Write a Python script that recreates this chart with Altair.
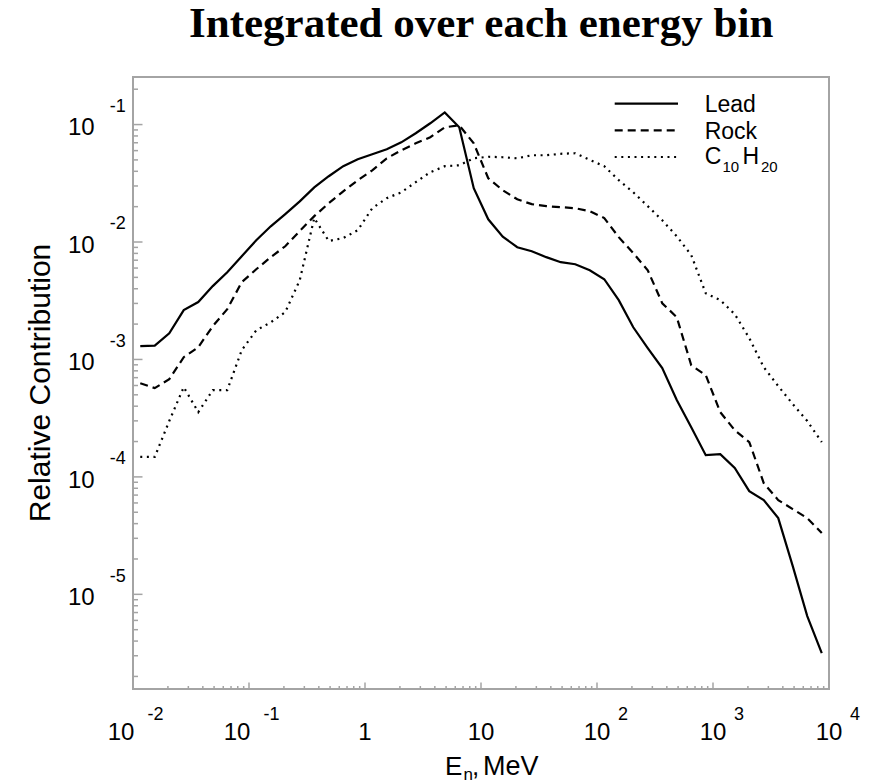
import altair as alt
import pandas as pd

# ---------------- data ----------------
energy = [0.01155, 0.0154, 0.02054, 0.02738, 0.03652, 0.0487, 0.06494, 0.0866,
          0.1155, 0.154, 0.2054, 0.2738, 0.3652, 0.487, 0.6494, 0.866,
          1.155, 1.54, 2.054, 2.738, 3.652, 4.87, 6.494, 8.66,
          11.55, 15.4, 20.54, 27.38, 36.52, 48.7, 64.94, 86.6,
          115.5, 154.0, 205.4, 273.8, 365.2, 487.0, 649.4, 866.0,
          1155, 1540, 2054, 2738, 3652, 4870, 6494, 8660]

lead = [1.30e-3, 1.31e-3, 1.67e-3, 2.63e-3, 3.08e-3, 4.21e-3, 5.53e-3, 7.57e-3,
        1.035e-2, 1.36e-2, 1.73e-2, 2.22e-2, 2.92e-2, 3.63e-2, 4.42e-2, 5.06e-2,
        5.58e-2, 6.17e-2, 7.06e-2, 8.43e-2, 0.1026, 0.127, 0.0948, 2.87e-2,
        1.56e-2, 1.11e-2, 9.03e-3, 8.35e-3, 7.43e-3, 6.73e-3, 6.47e-3, 5.75e-3,
        4.82e-3, 3.20e-3, 1.88e-3, 1.25e-3, 8.43e-4, 4.51e-4, 2.65e-4, 1.53e-4,
        1.56e-4, 1.19e-4, 7.57e-5, 6.34e-5, 4.46e-5, 1.74e-5, 6.53e-6, 3.16e-6]

rock = [6.28e-4, 5.70e-4, 6.79e-4, 1.045e-3, 1.27e-3, 1.92e-3, 2.68e-3, 4.55e-3,
        5.86e-3, 7.43e-3, 9.20e-3, 1.24e-2, 1.66e-2, 2.14e-2, 2.70e-2, 3.36e-2,
        4.08e-2, 5.16e-2, 6.04e-2, 6.92e-2, 7.80e-2, 9.48e-2, 9.86e-2, 6.92e-2,
        3.49e-2, 2.76e-2, 2.31e-2, 2.10e-2, 2.02e-2, 1.98e-2, 1.94e-2, 1.83e-2,
        1.60e-2, 1.10e-2, 8.04e-3, 5.75e-3, 3.01e-3, 2.29e-3, 8.93e-4, 7.35e-4,
        3.56e-4, 2.50e-4, 1.98e-4, 8.85e-5, 6.34e-5, 5.32e-5, 4.46e-5, 3.33e-5]

c10h20 = [1.48e-4, 1.48e-4, 2.99e-4, 5.81e-4, 3.56e-4, 5.48e-4, 5.48e-4, 1.20e-3,
          1.77e-3, 2.07e-3, 2.53e-3, 4.73e-3, 1.60e-2, 1.02e-2, 1.08e-2, 1.26e-2,
          1.94e-2, 2.36e-2, 2.65e-2, 3.23e-2, 3.93e-2, 4.42e-2, 4.50e-2, 5.16e-2,
          5.32e-2, 5.27e-2, 5.16e-2, 5.48e-2, 5.48e-2, 5.64e-2, 5.70e-2, 5.00e-2,
          4.42e-2, 3.36e-2, 2.65e-2, 2.02e-2, 1.53e-2, 1.12e-2, 7.73e-3, 3.66e-3,
          3.20e-3, 2.43e-3, 1.52e-3, 8.59e-4, 5.93e-4, 4.17e-4, 2.99e-4, 1.98e-4]

x_major = [0.01, 0.1, 1, 10, 100, 1000, 10000]
x_label_base = ["10", "10", "1", "10", "10", "10", "10"]
x_label_exp = ["-2", "-1", "", "", "2", "3", "4"]
y_major = [1e-5, 1e-4, 1e-3, 1e-2, 1e-1]
y_label_base = ["10", "10", "10", "10", "10"]
y_label_exp = ["-5", "-4", "-3", "-2", "-1"]

title_text = "Integrated over each energy bin"
y_title = "Relative Contribution"
series_names = ["Lead", "Rock", "C", "10", "H", "20"]

X_MIN, X_MAX = 0.01, 10000
Y_MIN, Y_MAX = 10 ** -5.806, 10 ** -0.595
x_minor = [m * 10 ** k for k in range(-2, 4) for m in range(2, 10)]
y_minor = [m * 10.0 ** k for k in range(-6, 0) for m in range(2, 10)
           if Y_MIN <= m * 10.0 ** k <= Y_MAX]

# ---------------- layout ----------------
W, H = 696, 612
AX = "#a4a4a4"
SANS = "Liberation Sans"

xs = alt.Scale(type="log", domain=[X_MIN, X_MAX], nice=False)
ys = alt.Scale(type="log", domain=[Y_MIN, Y_MAX], nice=False)
X = lambda f: alt.X(f, type="quantitative", scale=xs, axis=None)
Y = lambda f: alt.Y(f, type="quantitative", scale=ys, axis=None)

def series_line(vals, dash=None):
    df = pd.DataFrame({"E": energy, "v": vals})
    kw = dict(color="black", strokeWidth=2.2, clip=True)
    if dash:
        kw["strokeDash"] = dash
    return alt.Chart(df).mark_line(**kw).encode(x=X("E"), y=Y("v"))

DASH = [8, 5]
DOT = [2, 4.6]

lines = [series_line(lead), series_line(rock, DASH), series_line(c10h20, DOT)]

# ticks (inward)
xmaj = pd.DataFrame({"v": x_major})
xmin = pd.DataFrame({"v": x_minor})
ymaj = pd.DataFrame({"v": y_major})
ymin = pd.DataFrame({"v": y_minor})
ticks = [
    alt.Chart(xmaj).mark_rule(color=AX, strokeWidth=1.5).encode(
        x=X("v"), y=alt.value(H), y2=alt.value(H - 6.5)),
    alt.Chart(xmin).mark_rule(color=AX, strokeWidth=1.5).encode(
        x=X("v"), y=alt.value(H), y2=alt.value(H - 3)),
    alt.Chart(ymaj).mark_rule(color=AX, strokeWidth=1.5).encode(
        y=Y("v"), x=alt.value(0), x2=alt.value(9.5)),
    alt.Chart(ymin).mark_rule(color=AX, strokeWidth=1.5).encode(
        y=Y("v"), x=alt.value(0), x2=alt.value(5)),
]

# x tick labels
xl = pd.DataFrame({"v": x_major, "base": x_label_base, "exp": x_label_exp})
neg = "indexof(datum.exp, '-') == 0"
pos = "datum.exp != '' && indexof(datum.exp, '-') != 0"
nonneg = "indexof(datum.exp, '-') != 0"
xlabels = [
    alt.Chart(xl).transform_filter(neg).mark_text(
        font=SANS, fontSize=24, align="center", baseline="alphabetic", dx=-12
    ).encode(x=X("v"), y=alt.value(H + 51), text="base:N"),
    alt.Chart(xl).transform_filter(nonneg).mark_text(
        font=SANS, fontSize=24, align="center", baseline="alphabetic"
    ).encode(x=X("v"), y=alt.value(H + 51), text="base:N"),
    alt.Chart(xl).transform_filter(neg).mark_text(
        font=SANS, fontSize=18, align="left", baseline="alphabetic", dx=14.5
    ).encode(x=X("v"), y=alt.value(H + 31), text="exp:N"),
    alt.Chart(xl).transform_filter(pos).mark_text(
        font=SANS, fontSize=18, align="left", baseline="alphabetic", dx=21
    ).encode(x=X("v"), y=alt.value(H + 31), text="exp:N"),
]

# y tick labels
yl = pd.DataFrame({"v": y_major, "base": y_label_base, "exp": y_label_exp})
ylabels = [
    alt.Chart(yl).mark_text(
        font=SANS, fontSize=24, align="right", baseline="alphabetic", dy=10.7
    ).encode(y=Y("v"), x=alt.value(-38.3), text="base:N"),
    alt.Chart(yl).mark_text(
        font=SANS, fontSize=18, align="left", baseline="alphabetic", dy=-12.6
    ).encode(y=Y("v"), x=alt.value(-23.3), text="exp:N"),
]

def label(txt, x, y, size, **kw):
    df = pd.DataFrame({"t": [txt]})
    return alt.Chart(df).mark_text(font=kw.pop("font", SANS), fontSize=size,
                                   baseline="alphabetic", **kw).encode(
        x=alt.value(x), y=alt.value(y), text="t:N")

texts = [
    label(title_text, 348.2, -40, 43, font="Liberation Serif",
          fontWeight="bold", align="center"),
    label(y_title, -82.6, 306, 30, angle=270, align="center"),
    # x axis title: E_n, MeV
    label("E", 312, 698, 26, align="left"),
    label("n", 330.5, 703, 17, align="left"),
    label(",", 339, 698, 26, align="left"),
    label("MeV", 350, 698, 27, align="left"),
    # legend
    label(series_names[0], 571.7, 35, 23, align="left"),
    label(series_names[1], 571.7, 61.6, 23, align="left"),
    label(series_names[2], 571.7, 86.6, 23, align="left"),
    label(series_names[3], 589.5, 95, 15, align="left"),
    label(series_names[4], 609.5, 86.6, 23, align="left"),
    label(series_names[5], 628, 95, 15, align="left"),
]

legend_df = pd.DataFrame({"s": series_names[:3]})
def legend_line(i, y, dash=None):
    kw = dict(color="black", strokeWidth=2.2)
    if dash:
        kw["strokeDash"] = dash
    return alt.Chart(legend_df.iloc[[i]]).mark_rule(**kw).encode(
        x=alt.value(481.7), x2=alt.value(545), y=alt.value(y))

legend = [legend_line(0, 26.6), legend_line(1, 53.3, DASH), legend_line(2, 80, DOT)]

chart = alt.layer(*ticks, *lines, *xlabels, *ylabels, *texts, *legend).properties(
    width=W, height=H,
    autosize=alt.AutoSizeParams(type="none"),
    padding={"left": 133, "top": 77, "right": 42, "bottom": 95},
).configure_view(stroke=AX, strokeWidth=2)

chart.save("out.html", embed_options={"renderer": "svg", "actions": False})
